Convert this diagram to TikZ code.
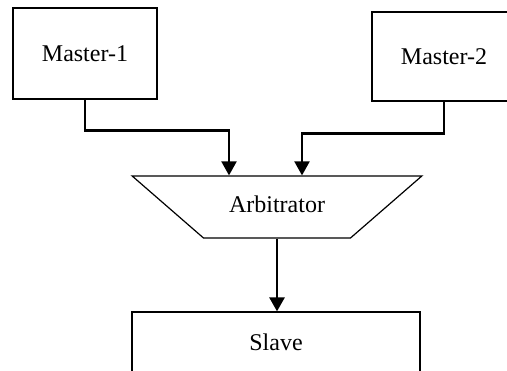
\documentclass[tikz,border=0pt]{standalone}
\usepackage{fontspec}
\setmainfont{Liberation Serif}
\usetikzlibrary{arrows.meta,
    positioning,
    shapes.geometric}

\begin{document}
\begin{tikzpicture}[x=1pt, y=-1pt,
                  box/.style = {draw, line width=1.2pt, minimum width=144pt, minimum height=91pt,
                                font=\fontsize{24}{28}\selectfont},
                  arb/.style = {trapezium, draw, line width=1.2pt, shape border rotate=180,
                                trapezium left angle=41, trapezium right angle=41,
                                text width=100pt, align=center, text height=17pt, text depth=5pt,
                                inner xsep=23.5pt, inner ysep=20pt,
                                font=\fontsize{24}{28}\selectfont},
                  arr/.style = {-{Triangle[width=15pt,length=14pt]}, line width=2.2pt}
                  ]
\useasboundingbox[fill=white] (0,0) rectangle (507,371);
\clip (0,0) rectangle (507,371);
\node (m1) [box] at (85,53.5) {Master-1};
\node (m2) [box, minimum height=89pt] at (444,56.5) {Master-2};
\node (arbiter) [arb] at (277,207) {Arbitrator};
\node (slave) [box, minimum width=288pt, minimum height=60pt] at (276,342) {Slave};
% masters to arbitrator
\draw[arr] (m1.south) -- ++(0,31) -| ([xshift=-48pt]arbiter.north);
\draw[arr] (m2.south) -- ++(0,32) -| ([xshift=25pt]arbiter.north);
% arbitrator to slave
\draw[arr, line width=2.6pt] (arbiter.south) -- (arbiter.south |- slave.north);
\end{tikzpicture}
\end{document}
